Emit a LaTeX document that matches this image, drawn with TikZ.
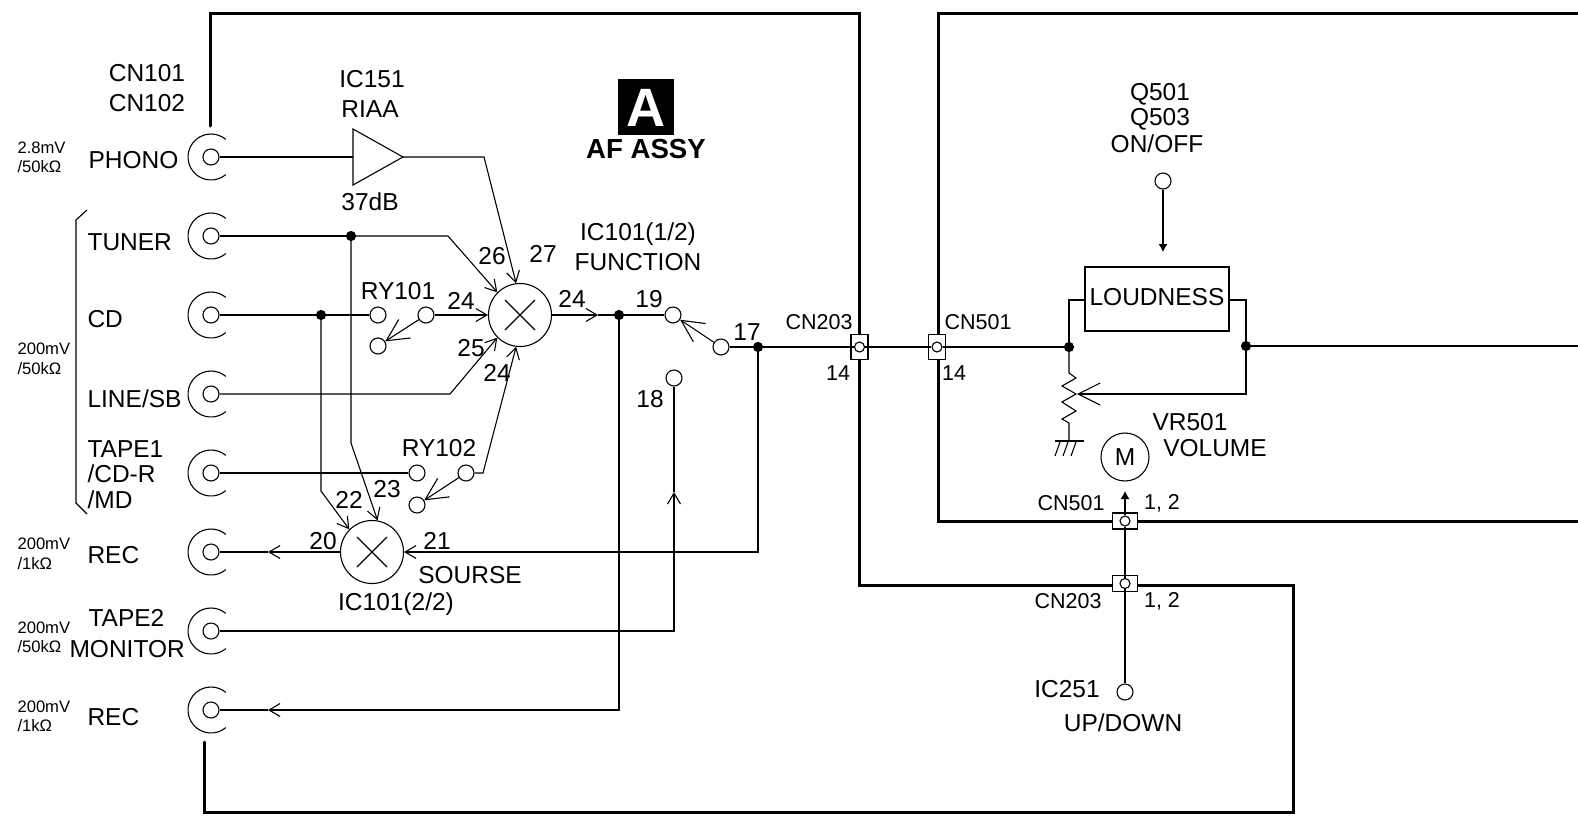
\documentclass[tikz,border=0pt]{standalone}
\usepackage{fontspec}
\setmainfont{Liberation Sans}
\usepackage{tikz}
\usetikzlibrary{arrows.meta, calc}

\begin{document}
\begin{tikzpicture}
  [
    x = 1pt, y = -1pt,
    line width = 1.1pt,
    >={Straight Barb[length=11pt, width=13pt]},
    bigtip/.style = {-{Straight Barb[length=22pt, width=22pt]}},
    filltip/.style = {-{Latex[length=8pt, width=9pt]}},
    term/.style = {draw, circle, fill = white, inner sep = 0pt, minimum size = 16pt},
    pin/.style = {draw, circle, fill = white, inner sep = 0pt, minimum size = 10pt},
    dot/.style = {draw, circle, fill = black, inner sep = 0pt, minimum size = 9pt},
    mixer/.style = {draw, circle, inner sep = 0pt, minimum size = 63pt},
    wall/.style = {line width = 3pt, line cap = round, line join = miter},
    txt/.style = {inner sep = 0pt, text height = 17pt, text depth = 0pt, font = \fontsize{24.5}{25}\selectfont},
    mid/.style = {inner sep = 0pt, text height = 15pt, text depth = 0pt, font = \fontsize{21.5}{22}\selectfont},
    tiny/.style = {inner sep = 0pt, text height = 12pt, text depth = 0pt, font = \fontsize{16.6}{17}\selectfont, anchor = west}
  ]
  \useasboundingbox (0,0) rectangle (1578,820);
  \fill[white] (0,0) rectangle (1578,820);

  % board outlines
  \draw[wall] (210,126) -- (210,13) -- (859,13) -- (859,585) -- (1293,585) -- (1293,812) -- (204,812) -- (204,742);
  \draw[wall, line cap = butt] (1578,13) -- (938,13) -- (938,521) -- (1578,521);
  \draw (87,210) -- (76,220) -- (76,503) -- (87,514);

  % jacks
  \foreach \name/\ypos in {Phono/157, Tuner/236, Cd/315, Line/394, Tape1/473, RecA/552, Tape2/631, RecB/710} {
    \node[term] (\name) at (211,\ypos) {};
    \draw (\name.center) ++(50:23) arc [start angle = 50, end angle = 310, radius = 23];
  }

  % amplifier and mixers
  \coordinate (AmpA) at (353,129);
  \coordinate (AmpB) at (353,185);
  \coordinate (AmpOut) at (403,157);
  \coordinate (AmpIn) at (353,157);
  \draw (AmpA) -- (AmpB) -- (AmpOut) -- cycle;
  \node[mixer] (Func) at (520,315) {};
  \node[mixer] (Sel) at (372,552) {};
  \draw (505,300) -- (535,330) (535,300) -- (505,330);
  \draw (357,537) -- (387,567) (387,537) -- (357,567);

  % contacts
  \node[term] (Ry1A) at (378,315) {};
  \node[term] (Ry1B) at (426,315) {};
  \node[term] (Ry1C) at (378,346) {};
  \node[term] (Ry2A) at (417,473) {};
  \node[term] (Ry2B) at (466,473) {};
  \node[term] (Ry2C) at (417,505) {};
  \node[term] (Sw19) at (673,315) {};
  \node[term] (Sw17) at (721,347) {};
  \node[term] (Sw18) at (674,378) {};
  \node[term] (QIn) at (1163,181) {};
  \node[term] (IcUp) at (1125,692) {};

  % junctions
  \node[dot] (DotTuner) at (351,236) {};
  \node[dot] (DotCd) at (321,315) {};
  \node[dot] (DotOut) at (619,315) {};
  \node[dot] (DotSw) at (758,347) {};
  \node[dot] (DotIn) at (1069,347) {};
  \node[dot] (DotVol) at (1246,346) {};

  % connectors
  \node[draw, fill = white, minimum width = 17pt, minimum height = 25pt, inner sep = 0pt] (Cn203Box) at (859.5,347) {};
  \node[draw, fill = white, minimum width = 17pt, minimum height = 25pt, inner sep = 0pt] (Cn501Box) at (937,347) {};
  \node[draw, fill = white, minimum width = 25pt, minimum height = 16pt, inner sep = 0pt] (Cn501Low) at (1125,521) {};
  \node[draw, fill = white, minimum width = 25pt, minimum height = 16pt, inner sep = 0pt] (Cn203Low) at (1125,583.5) {};
  \node[pin] (Cn203Pin) at (859.5,347) {};
  \node[pin] (Cn501Pin) at (937,347) {};
  \node[pin] (Cn501LowPin) at (1125,521) {};
  \node[pin] (Cn203LowPin) at (1125,583.5) {};

  \node[draw, minimum width = 144pt, minimum height = 64pt, inner sep = 0pt] (Loud) at (1157,299) {};
  \node[draw, circle, inner sep = 0pt, minimum size = 48pt] (Motor) at (1125,457) {};

  % signal wires
  \draw (Phono) -- (AmpIn);
  \coordinate (AmpBend) at (484,157);
  \draw[->] (AmpOut) -- (AmpBend) -- (Func.97);
  \coordinate (TunerBend) at (448,236);
  \draw (Tuner) -- (DotTuner);
  \draw[->] (DotTuner) -- (TunerBend) -- (Func.135);
  \coordinate (TunerLow) at (351,443);
  \draw[->] (DotTuner) -- (TunerLow) -- (Sel.80);
  \draw (Cd) -- (DotCd) -- (Ry1A);
  \coordinate (CdLow) at (321,491);
  \draw[->] (DotCd) -- (CdLow) -- (Sel.135);
  \draw[->] (Ry1B) -- (Func);
  \draw[bigtip] (Ry1B) -- (Ry1C);
  \coordinate (LineBend) at (450,394);
  \draw[->] (Line) -- (LineBend) -- (Func.225);
  \draw (Tape1) -- (Ry2A);
  \coordinate (Ry2Bend) at (483,473);
  \draw[->] (Ry2B) -- (Ry2Bend) -- (Func.-97);
  \draw[bigtip] (Ry2B) -- (Ry2C);

  % outputs
  \coordinate (OutTip) at (598,315);
  \draw[->] (Func) -- (OutTip);
  \draw (OutTip) -- (DotOut) -- (Sw19);
  \draw[bigtip] (Sw17) -- (Sw19);
  \draw (Sw17) -- (DotSw) -- (Cn203Pin) -- (Cn501Pin) -- (DotIn);
  \coordinate (SwLow) at (758,552);
  \draw[->] (DotSw) -- (SwLow) -- (Sel);
  \coordinate (RecTipA) at (268,552);
  \draw[->] (Sel) -- (RecTipA);
  \draw (RecTipA) -- (RecA);
  \coordinate (Tape2Bend) at (674,631);
  \coordinate (Tape2Tip) at (674,492);
  \draw[->] (Tape2) -- (Tape2Bend) -- (Tape2Tip);
  \draw (Tape2Tip) -- (Sw18);
  \coordinate (RecBend) at (619,710);
  \coordinate (RecTipB) at (268,710);
  \draw[->] (DotOut) -- (RecBend) -- (RecTipB);
  \draw (RecTipB) -- (RecB);

  % loudness and volume
  \coordinate (LoudL) at (1069,300);
  \coordinate (LoudR) at (1246,300);
  \draw (DotIn) -- (LoudL) -- (Loud.west |- LoudL);
  \draw (Loud.east |- LoudR) -- (LoudR) -- (DotVol);
  \coordinate (VolEnd) at (1578,346);
  \draw (DotVol) -- (VolEnd);
  \coordinate (WiperBend) at (1246,394);
  \coordinate (WiperTip) at (1077,394);
  \draw[bigtip] (DotVol) -- (WiperBend) -- (WiperTip);
  \coordinate (Gnd) at (1069,441);
  \draw (DotIn) -- (1069,373) -- (1076,378) -- (1062,386) -- (1076,394) -- (1062,402) -- (1076,411) -- (1062,419) -- (1069,423) -- (Gnd);
  \draw (1055,441) -- (1084,441);
  \foreach \xpos in {1060,1068,1076}
    \draw (\xpos,442) -- ++(-5,14);
  \draw[filltip] (QIn) -- (1163,252);
  \coordinate (UpTip) at (1125,491);
  \draw (IcUp) -- (Cn203LowPin) -- (Cn501LowPin);
  \draw[filltip] (Cn501LowPin) -- (UpTip);

  % labels
  \node[txt] (LCn101) at (147,73) {CN101};
  \node[txt] (LCn102) at (147,103) {CN102};
  \node[txt] (LIc151) at (372,79) {IC151};
  \node[txt] (LRiaa) at (370,109) {RIAA};
  \node[txt] (LGain) at (370,202) {37dB};
  \node[txt, anchor = west] (LPhono) at (88,160) {PHONO};
  \node[txt, anchor = west] (LTuner) at (87,242) {TUNER};
  \node[txt, anchor = west] (LCd) at (87,319) {CD};
  \node[txt, anchor = west] (LLine) at (87,399) {LINE/SB};
  \node[txt, anchor = west] (LTape1) at (87,449) {TAPE1};
  \node[txt, anchor = west] (LCdr) at (87,474) {/CD-R};
  \node[txt, anchor = west] (LMd) at (87,500) {/MD};
  \node[txt, anchor = west] (LRecA) at (87,555) {REC};
  \node[txt, anchor = west] (LTape2) at (88,618) {TAPE2};
  \node[txt, anchor = west] (LMon) at (69,649) {MONITOR};
  \node[txt, anchor = west] (LRecB) at (87,717) {REC};
  \node[tiny] (SPhonoA) at (17,147) {2.8mV};
  \node[tiny] (SPhonoB) at (17,166) {/50kΩ};
  \node[tiny] (SLineA) at (17,348) {200mV};
  \node[tiny] (SLineB) at (17,368) {/50kΩ};
  \node[tiny] (SRecA) at (17,543) {200mV};
  \node[tiny] (SRecB) at (17,563) {/1kΩ};
  \node[tiny] (SMonA) at (17,627) {200mV};
  \node[tiny] (SMonB) at (17,646) {/50kΩ};
  \node[tiny] (SOutA) at (17,706) {200mV};
  \node[tiny] (SOutB) at (17,725) {/1kΩ};
  \node[txt] (N26) at (492,256) {26};
  \node[txt] (N27) at (543,254) {27};
  \node[txt] (LIcA) at (638,232) {IC101(1/2)};
  \node[txt] (LFunc) at (638,262) {FUNCTION};
  \node[txt] (LRy1) at (398,291) {RY101};
  \node[txt] (N24a) at (461,301) {24};
  \node[txt] (N24b) at (572,299) {24};
  \node[txt] (N19) at (649,299) {19};
  \node[txt] (N17) at (747,332) {17};
  \node[txt] (N25) at (471,348) {25};
  \node[txt] (N24c) at (497,373) {24};
  \node[txt] (N18) at (650,399) {18};
  \node[txt] (LRy2) at (439,448) {RY102};
  \node[txt] (N23) at (387,489) {23};
  \node[txt] (N22) at (349,500) {22};
  \node[txt] (N20) at (323,541) {20};
  \node[txt] (N21) at (437,541) {21};
  \node[txt] (LSel) at (470,575) {SOURSE};
  \node[txt] (LIcB) at (396,602) {IC101(2/2)};
  \node[mid] (LCn203) at (819,322) {CN203};
  \node[mid] (N14a) at (838,373) {14};
  \node[mid] (LCn501) at (978,322) {CN501};
  \node[mid] (N14b) at (954,373) {14};
  \node[txt] (LLoud) at (1157,297) {LOUDNESS};
  \node[txt] (LVr) at (1190,422) {VR501};
  \node[txt] (LVol) at (1215,448) {VOLUME};
  \node[txt] (LM) at (Motor) {M};
  \node[mid] (LCn501b) at (1071,503) {CN501};
  \node[mid] (LPinA) at (1162,502) {1, 2};
  \node[mid] (LCn203b) at (1068,601) {CN203};
  \node[mid] (LPinB) at (1162,600) {1, 2};
  \node[txt] (LIc251) at (1067,689) {IC251};
  \node[txt] (LUp) at (1123,723) {UP/DOWN};
  \node[txt] (LQa) at (1160,92) {Q501};
  \node[txt] (LQb) at (1160,117) {Q503};
  \node[txt] (LOn) at (1157,144) {ON/OFF};
  \node[fill = black, minimum width = 56pt, minimum height = 56pt, inner sep = 0pt] (ABox) at (646,107) {};
  \node[inner sep = 0pt, text = white, text height = 39pt, text depth = 0pt, font = \bfseries\fontsize{54}{54}\selectfont] (LA) at (ABox) {A};
  \node[inner sep = 0pt, text height = 20pt, text depth = 0pt, font = \bfseries\fontsize{27.6}{28}\selectfont] (LAf) at (646,148) {AF ASSY};
\end{tikzpicture}
\end{document}
